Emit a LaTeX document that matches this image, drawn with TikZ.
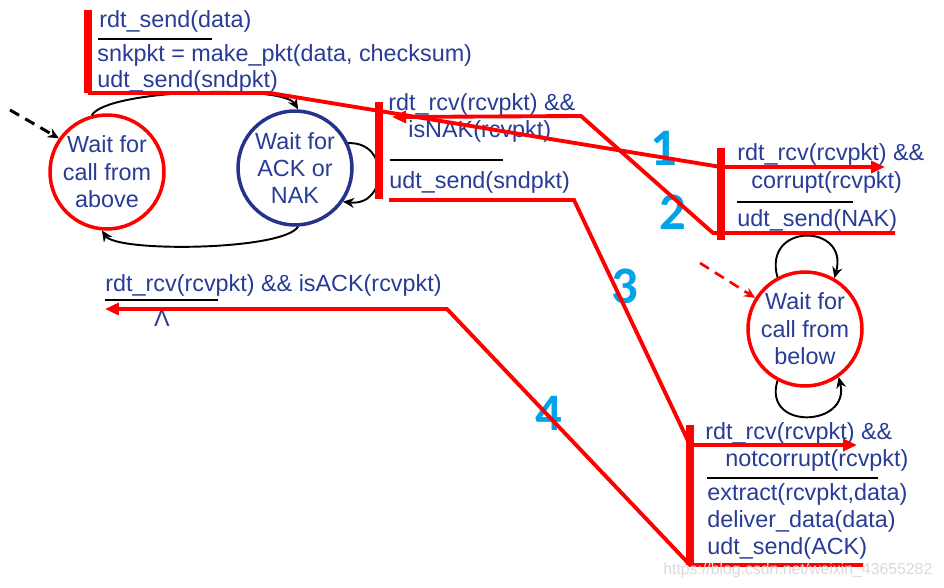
\documentclass[tikz,border=0pt]{standalone}
\usepackage{fontspec}
\setmainfont{Liberation Sans}
\newfontfamily\numfont{Carlito}
\usetikzlibrary{arrows.meta,positioning}
\definecolor{rdtblue}{RGB}{40,60,150}
\definecolor{rdtnavy}{RGB}{38,50,140}
\definecolor{rdtred}{RGB}{255,0,0}
\definecolor{numblue}{RGB}{0,162,232}
\tikzset{
  st/.style={circle, draw=rdtred, line width=2pt, minimum size=2.28cm, inner sep=0pt,
             align=center, text=rdtblue, font=\fontsize{13.3}{15.6}\selectfont},
  lbl/.style={anchor=base west, inner sep=0pt, text=rdtblue, font=\fontsize{13.3}{15.6}\selectfont},
  sep/.style={black, line width=1.7pt},
  bar/.style={rdtred, line width=4.6pt},
  tr/.style={rdtred, line width=2.2pt},
  trarr/.style={tr, -{Triangle[length=2.8mm, width=2.4mm]}},
  lp/.style={black, line width=1.1pt, -{Stealth[length=2.2mm, width=2mm]}},
  startarr/.style={lp, line width=1.7pt, dash pattern=on 6pt off 4pt},
  num/.style={text=numblue, inner sep=0pt, font=\numfont\bfseries\fontsize{30}{30}\selectfont},
}

\begin{document}
\begin{tikzpicture}[x=0.02cm, y=-0.02cm]
  \useasboundingbox (0,0) rectangle (944,588);

  % states
  \node[st] (above) at (107,172) {Wait for\\call from\\above};
  \node[st, draw=rdtnavy] (acknak) at (295,168) {Wait for\\ACK or\\NAK};
  \node[st] (below) at (805,329) {Wait for\\call from\\below};

  % black transitions
  \coordinate (init) at (10,110);
  \draw[startarr] (init) -- (above.145);
  \draw[lp] (above.105) .. controls +(15,-26) and +(-15,-25) .. (acknak.87);
  \draw[lp] (acknak.-87) .. controls +(-15,24) and +(15,22) .. (above.-95);
  \draw[lp] (acknak.25) .. controls +(42,-2) and +(45,5) .. (acknak.-35);
  \draw[lp] (below.118) .. controls +(-15,-55) and +(15,-55) .. (below.60);
  \draw[lp] (below.-118) .. controls +(-15,50) and +(12,50) .. (below.-55);
  \coordinate (rinit) at (700,263);
  \draw[startarr, rdtred, line width=1.5pt] (rinit) -- (below.148);

  % sender: rdt_send
  \node[lbl] (sndev) at (99,28) {rdt\_send(data)};
  \draw[sep] (98,39) -- (212,39);
  \node[lbl] (sndact1) at (97,62) {snkpkt = make\_pkt(data, checksum)};
  \node[lbl] (sndact2) at (97,88) {udt\_send(sndpkt)};

  % sender: NAK
  \node[lbl] (nakev1) at (388,111) {rdt\_rcv(rcvpkt) \&\&};
  \node[lbl] (nakev2) at (408,138) {isNAK(rcvpkt)};
  \draw[sep] (390,160) -- (503,160);
  \node[lbl] (nakact) at (389,189) {udt\_send(sndpkt)};

  % sender: ACK
  \node[lbl] (ackev) at (105,291) {rdt\_rcv(rcvpkt) \&\& isACK(rcvpkt)};
  \draw[sep] (105,300) -- (218,300);
  \node[text=rdtblue, inner sep=0pt, font=\fontsize{13.3}{15.6}\selectfont] (ackact) at (162,318) {Λ};

  % receiver: corrupt
  \node[lbl] (corev1) at (737,161) {rdt\_rcv(rcvpkt) \&\&};
  \node[lbl] (corev2) at (751,189) {corrupt(rcvpkt)};
  \draw[sep] (737,202) -- (853,202);
  \node[lbl] (coract) at (737,227) {udt\_send(NAK)};

  % receiver: notcorrupt
  \node[lbl] (okev1) at (705,439) {rdt\_rcv(rcvpkt) \&\&};
  \node[lbl] (okev2) at (725,466) {notcorrupt(rcvpkt)};
  \draw[sep] (707,478) -- (878,478);
  \node[lbl] (okact1) at (707,500) {extract(rcvpkt,data)};
  \node[lbl] (okact2) at (707,527) {deliver\_data(data)};
  \node[lbl] (okact3) at (707,554) {udt\_send(ACK)};

  % step numbers
  \node[num] (n1) at (664,148) {1};
  \node[num] (n2) at (673,212) {2};
  \node[num] (n3) at (625,286) {3};
  \node[num] (n4) at (549,413) {4};

  % red bars
  \coordinate (b1t) at (88,10);   \coordinate (b1b) at (88,93);
  \coordinate (b2t) at (379,102); \coordinate (b2b) at (379,199);
  \coordinate (b3t) at (721,148); \coordinate (b3b) at (721,240);
  \coordinate (b4t) at (690,425); \coordinate (b4b) at (690,565);

  % red trace lines
  \coordinate (corhit) at (721,167);  \coordinate (cortip) at (885,167);
  \coordinate (nakul) at (895,233);   \coordinate (naktip) at (392,117);
  \coordinate (sndul) at (389,200);   \coordinate (okhit) at (690,445);
  \coordinate (oktip) at (857,445);   \coordinate (ackul) at (863,565);
  \coordinate (acktip) at (105,309);
  \draw[trarr] (b1b) -- (270,93) -- (corhit) -- (cortip);
  \draw[trarr] (nakul) -- (713,233) -- (581,116) -- (naktip);
  \draw[trarr] (sndul) -- (574,200) -- (okhit) -- (oktip);
  \draw[trarr] (ackul) -- (b4b) -- (447,309) -- (acktip);

  \foreach \t/\b in {b1t/b1b, b2t/b2b, b3t/b3b, b4t/b4b}
    \draw[bar] (\t) -- (\b);

  % watermark
  \node[anchor=base west, inner sep=0pt, text=gray!30, font=\fontsize{9}{9}\selectfont] (wm) at (663,574) {https://blog.csdn.net/weixin\_43655282};
\end{tikzpicture}
\end{document}
